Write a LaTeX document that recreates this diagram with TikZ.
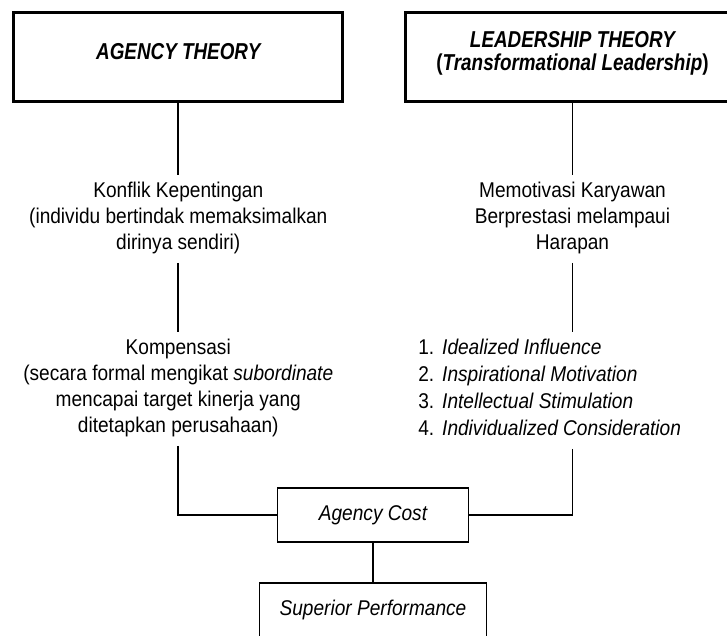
\documentclass[tikz,border=0pt]{standalone}
\usepackage{fontspec}
\setmainfont[FakeStretch=0.895]{Liberation Sans}
\newfontfamily\titlefont[FakeStretch=0.82]{Liberation Sans}
\newcommand\TopS{\rule{0pt}{16.5pt}}
\newcommand\BotS{\rule[-10pt]{0pt}{0pt}}
\begin{document}
\begin{tikzpicture}[x=0.75pt,y=-0.75pt,
  bigbox/.style={draw,line width=2.25pt,inner sep=0pt,align=center,
    font=\titlefont\fontsize{17.25pt}{17.25pt}\selectfont\bfseries\itshape},
  smallbox/.style={draw,line width=1.1pt,inner sep=0pt,
    font=\fontsize{16pt}{19.5pt}\selectfont\itshape},
  txt/.style={inner sep=0pt,align=center,font=\fontsize{16pt}{19.5pt}\selectfont},
  listtxt/.style={inner sep=0pt,align=left,font=\fontsize{16pt}{20.25pt}\selectfont},
  conn/.style={line width=1.2pt}]
\useasboundingbox (0,0) rectangle (727,635);
\clip (0,0) rectangle (727,635);
% top boxes
\node[bigbox,minimum width=247.1pt,minimum height=67.1pt] (agency) at (178.25,57.25)
  {\rule{0pt}{12pt}AGENCY THEORY\rule[-9pt]{0pt}{0pt}};
\node[bigbox,minimum width=251.25pt,minimum height=67.1pt] (lead) at (572.5,57.25)
  {\rule{0pt}{12pt}LEADERSHIP THEORY\\{\upshape(}Transformational Leadership{\upshape)}\rule[-9pt]{0pt}{0pt}};
% left column
\node[txt,anchor=north] (konflik) at (178.25,175)
  {\TopS Konflik Kepentingan\\(individu bertindak memaksimalkan\\dirinya sendiri)\BotS};
\node[txt,anchor=north] (komp) at (178.25,332)
  {\TopS Kompensasi\\(secara formal mengikat \textit{subordinate}\\mencapai target kinerja yang\\ditetapkan perusahaan)\BotS};
% right column
\node[txt,anchor=north] (memo) at (572.5,175)
  {\TopS Memotivasi Karyawan\\Berprestasi melampaui\\Harapan\BotS};
\node[listtxt,anchor=north west] (list) at (418,332)
  {\TopS 1.\hspace{6pt}\textit{Idealized Influence}\\
   2.\hspace{6pt}\textit{Inspirational Motivation}\\
   3.\hspace{6pt}\textit{Intellectual Stimulation}\\
   4.\hspace{6pt}\textit{Individualized Consideration}\BotS};
% bottom boxes
\node[smallbox,minimum width=143.25pt,minimum height=40.5pt] (cost) at (373,515) {Agency Cost};
\node[smallbox,minimum width=170.25pt,minimum height=40.5pt] (superior) at (373,610) {Superior Performance};
% connectors
\draw[conn] (agency.south) -- (konflik.north);
\draw[conn] (konflik.south) -- (komp.north);
\draw[conn] (komp.south) |- (cost.west);
\draw[conn] (lead.south) -- (memo.north);
\draw[conn] (memo.south) -- (memo.south |- list.north);
\draw[conn] (list.south -| memo.south) |- (cost.east);
\draw[conn] (cost.south) -- (superior.north);
\end{tikzpicture}
\end{document}
